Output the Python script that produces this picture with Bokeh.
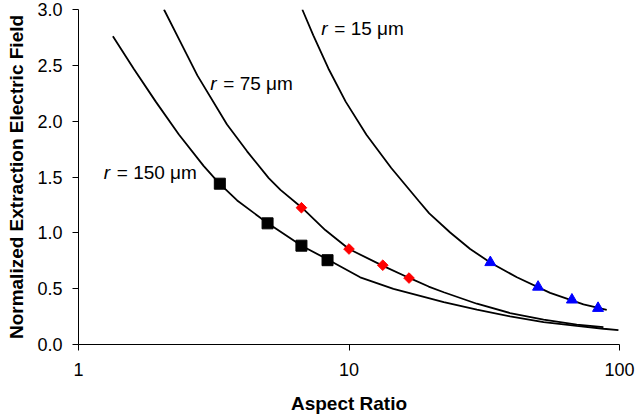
from bokeh.plotting import figure
from bokeh.models import Range1d, FixedTicker, Label, NumeralTickFormatter
from bokeh.embed import file_html
from bokeh.resources import INLINE

# ---- measured points (aspect ratio, normalized extraction field) ----
ar_150 = [3.33, 5.0, 6.67, 8.33]
field_150 = [1.44, 1.085, 0.885, 0.755]
ar_75 = [6.67, 10.0, 13.33, 16.67]
field_75 = [1.225, 0.855, 0.71, 0.595]
ar_15 = [33.3, 50.0, 66.7, 83.3]
field_15 = [0.735, 0.515, 0.40, 0.325]

# ---- trend curves ----
curve_150_ar = [1.34, 1.60, 1.93, 2.35, 2.90, 3.30, 3.86, 4.98, 6.68, 8.41,
                11.0, 14.6, 19.7, 22.4, 29.7, 39.4, 52.4, 69.5, 87.2, 99.1]
curve_150_f = [2.76, 2.47, 2.175, 1.88, 1.60, 1.448, 1.29, 1.09, 0.884, 0.757,
               0.602, 0.499, 0.415, 0.379, 0.312, 0.252, 0.201, 0.166, 0.141, 0.128]
curve_75_ar = [2.07, 2.38, 2.75, 3.54, 4.20, 5.05, 5.58, 6.70, 8.17, 10.0,
               13.3, 16.7, 19.7, 22.4, 29.7, 39.4, 52.4, 69.5, 87.2]
curve_75_f = [3.0, 2.71, 2.41, 1.97, 1.73, 1.49, 1.385, 1.225, 1.025, 0.855,
              0.706, 0.596, 0.519, 0.468, 0.365, 0.282, 0.222, 0.178, 0.155]
curve_15_ar = [6.72, 7.38, 8.39, 9.72, 11.6, 14.33, 18.11, 19.8, 23.66, 28.05,
               33.5, 41.75, 55.4, 73.6, 89.7]
curve_15_f = [3.0, 2.769, 2.472, 2.175, 1.879, 1.581, 1.285, 1.175, 1.003, 0.855,
              0.73, 0.602, 0.462, 0.36, 0.31]

x_ticks = [1, 10, 100]
y_ticks = [0.0, 0.5, 1.0, 1.5, 2.0, 2.5, 3.0]

FONT = "Liberation Sans"

p = figure(width=636, height=418, x_axis_type="log",
           x_range=Range1d(1, 100), y_range=Range1d(0, 3.0),
           output_backend="svg", toolbar_location=None,
           min_border_left=78, min_border_right=17,
           min_border_top=9, min_border_bottom=74)
p.outline_line_color = None
p.grid.grid_line_color = None
p.background_fill_color = "white"
p.border_fill_color = "white"

# curves
for xs, ys in [(curve_150_ar, curve_150_f), (curve_75_ar, curve_75_f), (curve_15_ar, curve_15_f)]:
    p.line(xs, ys, line_color="black", line_width=1.8)

# markers
p.scatter(ar_150, field_150, marker="square", size=11, fill_color="black", line_color="black")
p.scatter(ar_75, field_75, marker="square", angle=0.785398, size=7.5,
          fill_color="#ff0000", line_color="#ff0000")
p.scatter(ar_15, field_15, marker="triangle", size=11, fill_color="#0000ff", line_color="#0000ff")

# axes
p.xaxis.ticker = FixedTicker(ticks=x_ticks)
p.xaxis.major_label_overrides = {1: "1", 10: "10", 100: "100"}
p.yaxis.ticker = FixedTicker(ticks=y_ticks)
p.yaxis.formatter = NumeralTickFormatter(format="0.0")
for ax in (p.xaxis[0], p.yaxis[0]):
    ax.axis_line_color = "black"
    ax.axis_line_width = 1
    ax.major_tick_line_color = "black"
    ax.major_tick_in = 0
    ax.major_tick_out = 6
    ax.minor_tick_line_color = None
    ax.major_label_text_font = FONT
    ax.major_label_text_font_size = "18px"
    ax.major_label_text_color = "black"
    ax.axis_label_text_font = FONT
    ax.axis_label_text_font_size = "19px"
    ax.axis_label_text_font_style = "bold"
    ax.axis_label_text_color = "black"

p.xaxis.axis_label = "Aspect Ratio"
p.yaxis.axis_label = "Normalized Extraction Electric Field"
p.xaxis.major_label_standoff = 12
p.xaxis.axis_label_standoff = 14
p.yaxis.major_label_standoff = 10
p.yaxis.axis_label_standoff = 7

# curve labels
for lx, ly, rest in [(1.24, 1.537, "= 150 \u03bcm"), (3.07, 2.338, "= 75 \u03bcm"), (7.90, 2.834, "= 15 \u03bcm")]:
    p.add_layout(Label(x=lx, y=ly, text="r", text_font=FONT, text_font_style="italic",
                       text_font_size="19px", text_baseline="middle", text_color="black"))
    p.add_layout(Label(x=lx, y=ly, x_offset=13, text=rest, text_font=FONT,
                       text_font_size="19px", text_baseline="middle", text_color="black"))

open("out.html", "w").write(file_html(p, INLINE))
